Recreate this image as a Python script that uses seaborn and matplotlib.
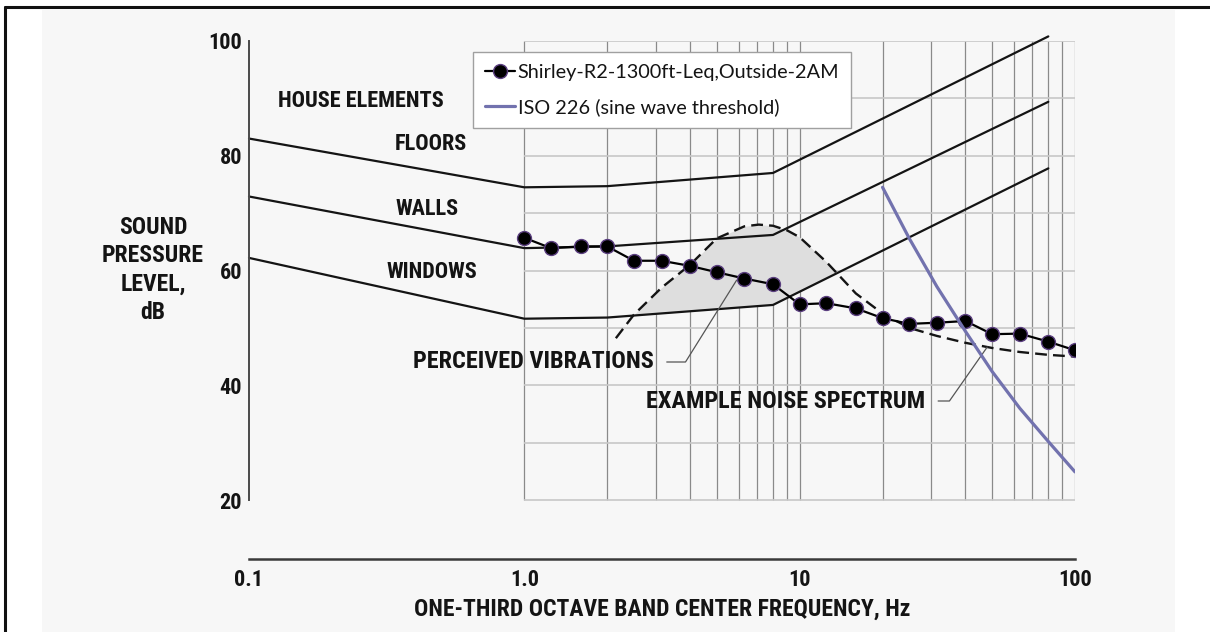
import numpy as np
import matplotlib
matplotlib.use("Agg")
import matplotlib.pyplot as plt
import seaborn as sns
from matplotlib import font_manager
from matplotlib.lines import Line2D
from matplotlib.patches import Rectangle
from matplotlib.ticker import NullLocator

# One-third octave band centre frequencies (Hz) and measured Leq (dB)
band_hz = [1, 1.25, 1.6, 2, 2.5, 3.15, 4, 5, 6.3, 8, 10, 12.5, 16, 20, 25, 31.5, 40, 50, 63, 80, 100]
leq_db = [65.7, 63.9, 64.2, 64.2, 61.7, 61.7, 60.8, 59.7, 58.6, 57.6, 54.1,
          54.3, 53.4, 51.7, 50.7, 50.9, 51.2, 48.9, 49.0, 47.6, 46.1]
series_label = "Shirley-R2-1300ft-Leq,Outside-2AM"

# ISO 226 hearing threshold for sine tones
iso_hz = [20, 25, 31.5, 40, 50, 63, 80, 100]
iso_db = [74.5, 65.6, 57.2, 49.4, 42.4, 36.0, 30.2, 24.9]
iso_label = "ISO 226 (sine wave threshold)"

# House element response curves
house_hz = [0.1, 1, 2, 8, 80]
floors_db = [83.0, 74.5, 74.7, 77.0, 100.8]
walls_db = [72.9, 63.9, 64.2, 66.2, 89.4]
windows_db = [62.2, 51.6, 51.8, 54.0, 77.8]

# Example noise spectrum (dashed)
noise_hz = [2.15, 2.5, 3.15, 4, 5, 6.3, 7.1, 8, 9, 10, 12.5, 16, 20, 25, 31.5, 40, 50, 63, 80, 100]
noise_db = [48.2, 52.3, 57.0, 61.0, 65.6, 67.7, 68.0, 67.8, 67.0, 65.8,
            61.5, 56.0, 52.5, 50.0, 48.6, 47.4, 46.5, 45.8, 45.3, 45.0]

x_ticks = [0.1, 1, 10, 100]
x_tick_labels = ["0.1", "1.0", "10", "100"]
y_ticks = [20, 40, 60, 80, 100]

# log-paper grid covering 1-100 Hz and 20-100 dB
grid_x = [1, 2, 3, 4, 5, 6, 7, 8, 9, 10, 20, 30, 40, 50, 60, 70, 80, 90, 100]
grid_y = [20, 30, 40, 50, 60, 70, 80, 90, 100]

W, H = 1210, 632


def fx(px):
    return px / W


def fy(py):
    return 1 - py / H


available = {f.name for f in font_manager.fontManager.ttflist}


def pick(cands):
    for c in cands:
        if c in available:
            return c
    return "DejaVu Sans"


letter_font = pick(["Liberation Sans Narrow", "DejaVu Sans Condensed", "Roboto Condensed", "Liberation Sans"])
legend_font = pick(["Lato", "Open Sans", "Liberation Sans"])

sns.set_theme(style="white")
plt.rcParams["font.family"] = [letter_font, "DejaVu Sans"]
ink = "#141414"

fig = plt.figure(figsize=(W / 100, H / 100), dpi=100)
fig.patch.set_facecolor("white")
fig.add_artist(Rectangle((fx(42), 0), fx(1175) - fx(42), fy(10), transform=fig.transFigure,
                         facecolor="#f7f7f7", edgecolor="none", zorder=-10))

ax = fig.add_axes([fx(249), fy(559), fx(1075) - fx(249), fy(41) - fy(559)])
ax.set_facecolor("none")
ax.set_xscale("log")
ax.set_xlim(0.1, 100)
ax.set_ylim(9.72, 100)

# grid
ax.vlines(grid_x, grid_y[0], grid_y[-1], colors="#8a8a8a", lw=0.9, zorder=0.5)
ax.hlines(grid_y, grid_x[0], grid_x[-1], colors="#c8c8c8", lw=1.2, zorder=0.5)

# perceived vibration zone: between noise spectrum and window response
dense = np.logspace(np.log10(noise_hz[0]), np.log10(20), 500)
upper = np.interp(np.log10(dense), np.log10(noise_hz), noise_db)
lower = np.interp(np.log10(dense), np.log10(house_hz), windows_db)
ax.fill_between(dense, lower, upper, where=upper >= lower, interpolate=True,
                color="#dedede", lw=0, zorder=1)

for db in (floors_db, walls_db, windows_db):
    sns.lineplot(x=house_hz, y=db, ax=ax, color=ink, lw=1.6, legend=False, zorder=2)
    ax.lines[-1].set_clip_on(False)

sns.lineplot(x=noise_hz, y=noise_db, ax=ax, color=ink, lw=1.7, linestyle=(0, (5, 2.6)),
             legend=False, zorder=2.5)

sns.lineplot(x=band_hz, y=leq_db, ax=ax, color="black", lw=1.6, marker="o", markersize=10,
             markerfacecolor="black", markeredgecolor="#5b3f80", markeredgewidth=1.0,
             label=series_label, zorder=4)
sns.lineplot(x=iso_hz, y=iso_db, ax=ax, color="#7272ae", lw=2.3, label=iso_label, zorder=5)

# axes styling
for s in ("top", "right"):
    ax.spines[s].set_visible(False)
ax.spines["left"].set_bounds(20, 100)
ax.spines["left"].set_color("#4a4a4a")
ax.spines["left"].set_linewidth(1.4)
ax.spines["bottom"].set_bounds(0.1, 100)
ax.spines["bottom"].set_color("#3a3a3a")
ax.spines["bottom"].set_linewidth(1.8)

ax.set_xticks(x_ticks, x_tick_labels)
ax.xaxis.set_minor_locator(NullLocator())
ax.set_yticks(y_ticks, [str(v) for v in y_ticks])
ax.tick_params(axis="y", direction="in", length=10, width=1.3, color="#555555", pad=5,
               labelsize=16, labelcolor=ink)
ax.tick_params(axis="x", direction="in", length=12, width=1.3, color="#555555", pad=7,
               labelsize=16, labelcolor=ink)
for lbl in ax.get_xticklabels() + ax.get_yticklabels():
    lbl.set_fontweight("bold")

ax.set_xlabel("ONE-THIRD OCTAVE BAND CENTER FREQUENCY, Hz", fontsize=17, fontweight="bold", color=ink)
ax.xaxis.set_label_coords(0.5, (559 - 609) / 518)
ax.xaxis.label.set_va("center")

ax.set_ylabel("SOUND\nPRESSURE\nLEVEL,\ndB", rotation=0, ha="center", va="center",
              multialignment="center", fontsize=17, fontweight="bold", color=ink, linespacing=1.3)
ax.yaxis.set_label_coords((153 - 249) / 826, (559 - 270) / 518)

# curve labels
txt = dict(fontsize=16, fontweight="bold", color=ink, va="center")
fig.text(fx(361), fy(101), "HOUSE ELEMENTS", ha="center", **txt)
fig.text(fx(431), fy(144), "FLOORS", ha="center", **txt)
fig.text(fx(427), fy(209), "WALLS", ha="center", **txt)
fig.text(fx(432), fy(272), "WINDOWS", ha="center", **txt)

note = dict(fontsize=17.5, fontweight="bold", color=ink, va="center")
leader = dict(arrowstyle="-", color="#555555", lw=0.9, relpos=(1, 0.5), shrinkA=7, shrinkB=0)
ax.annotate("PERCEIVED VIBRATIONS", xy=(5.9, 58.3), xytext=(413, H - 362), textcoords="figure pixels",
            ha="left", **note,
            arrowprops=dict(connectionstyle="angle,angleA=0,angleB=58", **leader))
noise_target = 48
ax.annotate("EXAMPLE NOISE SPECTRUM",
            xy=(noise_target, np.interp(np.log10(noise_target), np.log10(noise_hz), noise_db)),
            xytext=(646, H - 401), textcoords="figure pixels", ha="left", **note,
            arrowprops=dict(connectionstyle="angle,angleA=0,angleB=55", **leader))

handles, labels = ax.get_legend_handles_labels()
leg = ax.legend(handles, labels, loc="upper left", bbox_to_anchor=(fx(473), fy(52)),
                bbox_transform=fig.transFigure, borderaxespad=0, frameon=True, fancybox=False,
                framealpha=1, edgecolor="#a0a0a0", facecolor="white",
                prop={"family": legend_font, "size": 14.3}, handlelength=1.5, handletextpad=0.15,
                borderpad=0.6, labelspacing=0.85)
leg.get_frame().set_linewidth(1.0)
leg.set_zorder(10)
for t in leg.get_texts():
    t.set_color(ink)

# border lines
fig.add_artist(Line2D([fx(5), fx(5)], [0, fy(7)], color="#111111", lw=2.2, transform=fig.transFigure))
fig.add_artist(Line2D([fx(5), 1], [fy(7), fy(7)], color="#111111", lw=2.2, transform=fig.transFigure))

fig.savefig("out.png", dpi=100)
